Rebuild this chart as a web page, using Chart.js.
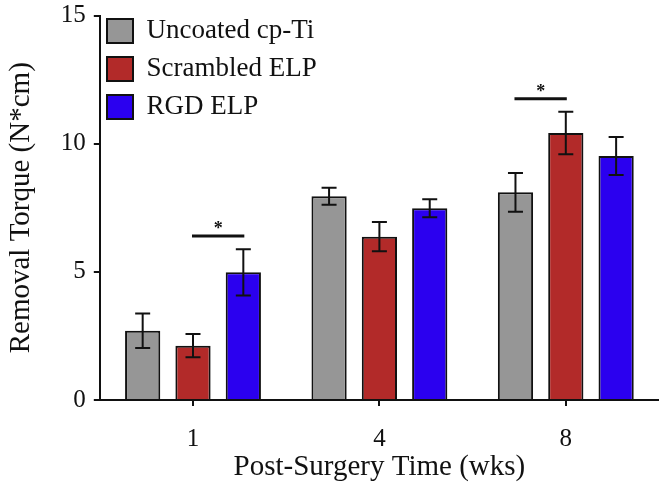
<!DOCTYPE html>
<html>
<head>
<meta charset="utf-8">
<script src="https://cdn.jsdelivr.net/npm/chart.js@4"></script>
<style>
  html, body { margin: 0; padding: 0; background: #fff; }
  #wrap { width: 659px; height: 487px; }
</style>
</head>
<body>
<div id="wrap"><canvas id="chartTorque"></canvas></div>
<script>
// values
const weeks = ['1', '4', '8'];
const seriesNames = ['Uncoated cp-Ti', 'Scrambled ELP', 'RGD ELP'];
const uncoated = [2.7, 7.95, 8.1];
const uncoatedErr = [0.67, 0.33, 0.76];
const scrambled = [2.12, 6.37, 10.42];
const scrambledErr = [0.45, 0.57, 0.83];
const rgd = [4.98, 7.48, 9.52];
const rgdErr = [0.9, 0.35, 0.74];
const yTicks = [0, 5, 10, 15];
// significance brackets: week index, bar from/to (dataset index), height
const sigMarks = [
  { week: 0, from: 1, to: 2, y: 6.4 },
  { week: 2, from: 0, to: 1, y: 11.75 }
];

const colors = ['#969696', '#b22a29', '#2b00ef'];
const errs = [uncoatedErr, scrambledErr, rgdErr];
const ink = '#111';
const serif = 'Liberation Serif, Times New Roman, serif';

const errorBars = {
  id: 'errorBars',
  afterDatasetsDraw(chart){
    const c = chart.ctx, y = chart.scales.y;
    c.save();
    c.strokeStyle = ink;
    c.lineWidth = 2;
    chart.data.datasets.forEach((ds, i) => {
      const meta = chart.getDatasetMeta(i);
      meta.data.forEach((bar, j) => {
        const v = ds.data[j], e = errs[i][j];
        const top = y.getPixelForValue(v + e), bot = y.getPixelForValue(v - e);
        c.beginPath();
        c.moveTo(bar.x, top); c.lineTo(bar.x, bot);
        c.moveTo(bar.x - 7.5, top); c.lineTo(bar.x + 7.5, top);
        c.moveTo(bar.x - 7.5, bot); c.lineTo(bar.x + 7.5, bot);
        c.stroke();
      });
    });
    // significance lines with star
    c.lineWidth = 3;
    c.fillStyle = ink;
    c.font = 'bold 18px ' + serif;
    c.textAlign = 'center';
    c.textBaseline = 'alphabetic';
    sigMarks.forEach(s => {
      const a = chart.getDatasetMeta(s.from).data[s.week];
      const b = chart.getDatasetMeta(s.to).data[s.week];
      const py = y.getPixelForValue(s.y);
      c.beginPath();
      c.moveTo(a.x - 1, py); c.lineTo(b.x + 1, py);
      c.stroke();
      c.fillText('*', (a.x + b.x) / 2, py - 2);
    });
    c.restore();
  }
};

// place the legend box in the upper left corner of the plot
const legendSpot = {
  id: 'legendSpot',
  afterLayout(chart){
    const lg = chart.legend;
    if (!lg) return;
    const pad = lg.options.labels.padding;
    lg.left = 107 - pad;
    lg.top = 17.5 - pad;
  }
};

new Chart(document.getElementById('chartTorque'), {
  type: 'bar',
  data: {
    labels: weeks,
    datasets: [uncoated, scrambled, rgd].map((d, i) => ({
      label: seriesNames[i],
      data: d,
      backgroundColor: colors[i],
      borderColor: ink,
      borderWidth: 2,
      borderSkipped: 'bottom',
      categoryPercentage: 0.81,
      barPercentage: 0.7
    }))
  },
  options: {
    responsive: true,
    maintainAspectRatio: false,
    animation: false,
    layout: { padding: { top: 1, right: 0, left: 4, bottom: 0 } },
    plugins: {
      tooltip: { enabled: false },
      legend: {
        position: 'chartArea',
        align: 'start',
        labels: {
          color: ink,
          font: { family: serif, size: 27 },
          boxWidth: 26,
          boxHeight: 24,
          padding: 11
        }
      }
    },
    scales: {
      x: {
        afterFit(scale){ scale.height = 87; },
        grid: { offset: false, drawOnChartArea: false, tickLength: 6, color: ink, lineWidth: 2 },
        border: { color: ink, width: 2 },
        ticks: { color: ink, font: { family: serif, size: 25, lineHeight: 1 }, padding: 21 },
        title: { display: true, text: 'Post-Surgery Time (wks)', color: ink, font: { family: serif, size: 29, lineHeight: 1 }, padding: { top: 0, bottom: 5 } }
      },
      y: {
        min: 0,
        max: 15,
        afterBuildTicks(scale){ scale.ticks = yTicks.map(v => ({ value: v })); },
        grid: { drawOnChartArea: false, tickLength: 6, color: ink, lineWidth: 2 },
        border: { color: ink, width: 2 },
        ticks: { color: ink, font: { family: serif, size: 25, lineHeight: 0.6 }, padding: 8 },
        title: { display: true, text: 'Removal Torque (N*cm)', color: ink, font: { family: serif, size: 29 }, padding: { top: 0, bottom: 14 } }
      }
    }
  },
  plugins: [errorBars, legendSpot]
});
</script>
</body>
</html>
